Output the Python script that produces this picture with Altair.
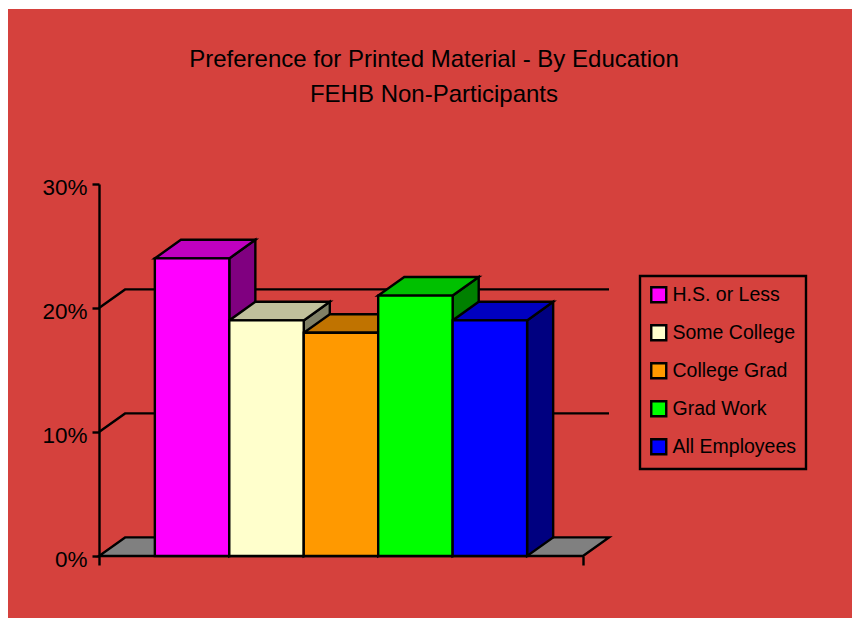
import altair as alt
import pandas as pd

# Chart content
series = ["H.S. or Less", "Some College", "College Grad", "Grad Work", "All Employees"]
values = [24, 19, 18, 21, 19]
y_ticks = [0, 10, 20, 30]
grid_levels = [10, 20]

# Face shading: front, top (lighter shade), side (darker shade)
front_colors = ["#FF00FF", "#FFFFCC", "#FF9900", "#00FF00", "#0000FF"]
top_colors = ["#C000C0", "#C0C09C", "#C07300", "#00C000", "#0000C0"]
side_colors = ["#800080", "#808066", "#804D00", "#008000", "#000080"]

# 3-D geometry (x in bar widths, y in percentage points)
FLOOR_END = 6.5      # front edge of the floor
MARGIN = 0.75        # empty floor before the first bar
DEPTH_X = 0.35       # receding offset of the back plane
DEPTH_Y = 1.5
X_MAX = FLOOR_END + DEPTH_X

BG = "#D5413D"
FONT = "Liberation Sans"
LW = 2.4

fronts, sides, tops = [], [], []
for i, (name, v) in enumerate(zip(series, values)):
    x0 = MARGIN + i
    x1 = x0 + 1
    fronts.append({"series": name, "x0": x0, "x1": x1, "v": v})
    sides += [
        {"series": name, "c": side_colors[i], "x": x1, "hi": v, "lo": 0},
        {"series": name, "c": side_colors[i], "x": x1 + DEPTH_X, "hi": v + DEPTH_Y, "lo": DEPTH_Y},
    ]
    tops += [
        {"series": name, "c": top_colors[i], "y": v, "xl": x0, "xr": x1},
        {"series": name, "c": top_colors[i], "y": v + DEPTH_Y, "xl": x0 + DEPTH_X, "xr": x1 + DEPTH_X},
    ]
fronts = pd.DataFrame(fronts)
sides = pd.DataFrame(sides)
tops = pd.DataFrame(tops)

floor = pd.DataFrame([
    {"y": 0, "xl": 0, "xr": FLOOR_END},
    {"y": DEPTH_Y, "xl": DEPTH_X, "xr": X_MAX},
])

grid = []
for g in grid_levels:
    grid += [
        {"level": g, "o": 0, "x": 0, "y": g},
        {"level": g, "o": 1, "x": DEPTH_X, "y": g + DEPTH_Y},
        {"level": g, "o": 2, "x": X_MAX, "y": g + DEPTH_Y},
    ]
grid = pd.DataFrame(grid)

xs = alt.Scale(domain=[0, X_MAX], nice=False, zero=False)
ys = alt.Scale(domain=[0, 30], nice=False)

x_axis = alt.Axis(values=[0, FLOOR_END], labels=False, title=None, domain=False,
                  grid=False, tickColor="black", tickWidth=LW, tickSize=9, zindex=1)
y_axis = alt.Axis(values=y_ticks, labelExpr="datum.value + '%'", title=None, grid=False,
                  domainColor="black", domainWidth=LW, tickColor="black", tickWidth=LW,
                  tickSize=7, labelFont=FONT, labelFontSize=22.5, labelColor="black",
                  labelPadding=5, labelOffset=3, zindex=1)

# red panel behind the whole chart (pixel frame, relative to the plot origin)
backdrop = alt.Chart(pd.DataFrame({"k": [0]})).mark_rect(color=BG).encode(
    x=alt.value(-91), x2=alt.value(753), y=alt.value(-175), y2=alt.value(434)
)

floor_layer = alt.Chart(floor).mark_area(
    orient="horizontal", color="#808080", stroke="black", strokeWidth=LW
).encode(
    y=alt.Y("y:Q", scale=ys, axis=y_axis, stack=None),
    x=alt.X("xl:Q", scale=xs, axis=x_axis, stack=None),
    x2="xr:Q",
)

grid_layer = alt.Chart(grid).mark_line(color="black", strokeWidth=LW).encode(
    x=alt.X("x:Q", scale=xs),
    y=alt.Y("y:Q", scale=ys),
    detail="level:N",
    order="o:Q",
)

side_layer = alt.Chart(sides).mark_area(stroke="black", strokeWidth=LW).encode(
    x=alt.X("x:Q", scale=xs),
    y=alt.Y("hi:Q", scale=ys, stack=None),
    y2="lo:Q",
    detail="series:N",
    color=alt.Color("c:N", scale=None),
)

top_layer = alt.Chart(tops).mark_area(orient="horizontal", stroke="black", strokeWidth=LW).encode(
    y=alt.Y("y:Q", scale=ys),
    x=alt.X("xl:Q", scale=xs, stack=None),
    x2="xr:Q",
    detail="series:N",
    color=alt.Color("c:N", scale=None),
)

front_layer = alt.Chart(fronts).mark_rect(stroke="black", strokeWidth=LW).encode(
    x=alt.X("x0:Q", scale=xs),
    x2="x1:Q",
    y=alt.Y("v:Q", scale=ys),
    y2=alt.datum(0),
    color=alt.Color(
        "series:N",
        scale=alt.Scale(domain=series, range=front_colors),
        sort=series,
        legend=alt.Legend(
            title=None, orient="none", legendX=541, legendY=92,
            symbolType="square", symbolSize=225, symbolStrokeColor="black",
            symbolStrokeWidth=LW, symbolOpacity=1,
            labelFont=FONT, labelFontSize=19.5, labelColor="black", labelOffset=4,
            rowPadding=12, padding=9, strokeColor="black",
        ),
    ),
)

chart = alt.layer(
    backdrop, floor_layer, grid_layer, side_layer, top_layer, front_layer
).properties(
    width=510,
    height=372,
    padding={"left": 99, "top": 184, "right": 243, "bottom": 62},
    autosize=alt.AutoSizeParams(type="none"),
    background="white",
    title=alt.TitleParams(
        ["Preference for Printed Material - By Education", "FEHB Non-Participants"],
        font=FONT, fontSize=24, fontWeight="normal", color="black",
        anchor="middle", frame="group", dx=80, offset=-117, baseline="alphabetic",
        lineHeight=35, zindex=1,
    ),
).configure_view(stroke=None).configure_legend(strokeWidth=LW)

chart.save("out.html", embed_options={"renderer": "svg", "actions": False})
